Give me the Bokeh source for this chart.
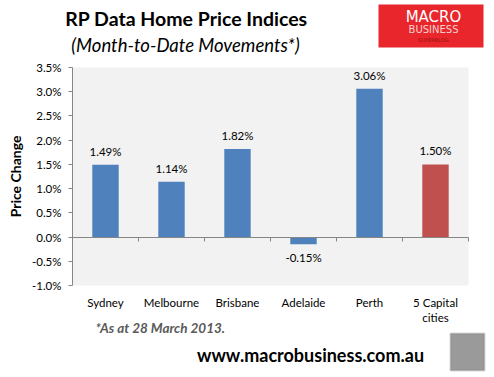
from bokeh.plotting import figure
from bokeh.models import (ColumnDataSource, LabelSet, Label, LinearAxis, FixedTicker, Range1d,
                          NumeralTickFormatter, BoxAnnotation)
from bokeh.core.properties import value
from bokeh.embed import file_html
from bokeh.resources import INLINE

cities = ["Sydney", "Melbourne", "Brisbane", "Adelaide", "Perth", "5 Capital\ncities"]
changes = [0.0149, 0.0114, 0.0182, -0.0015, 0.0306, 0.0150]
colors = ["#4F81BD", "#4F81BD", "#4F81BD", "#4F81BD", "#4F81BD", "#C0504D"]
y_ticks = [-0.01, -0.005, 0.0, 0.005, 0.01, 0.015, 0.02, 0.025, 0.03, 0.035]

FONT = "Lato"
W, H = 494, 377
# plot-area placement in pixels (layout only)
PL, PR, PT, PB = 72, 468, 67, 285
n = len(cities)
ymin, ymax = y_ticks[0], y_ticks[-1]
xpx = (PR - PL) / n
ypx = (PB - PT) / (ymax - ymin)

xs = [i + 0.5 for i in range(n)]
labels = [f"{v*100:.2f}%" for v in changes]
src = ColumnDataSource(dict(x=xs, top=changes, color=colors))
pos_src = ColumnDataSource(dict(x=[x for x, v in zip(xs, changes) if v >= 0],
                                y=[v for v in changes if v >= 0],
                                label=[l for l, v in zip(labels, changes) if v >= 0]))
neg_src = ColumnDataSource(dict(x=[x for x, v in zip(xs, changes) if v < 0],
                                y=[v for v in changes if v < 0],
                                label=[l for l, v in zip(labels, changes) if v < 0]))

p = figure(width=W, height=H, output_backend="svg", toolbar_location=None,
           x_range=Range1d(-PL / xpx, n + (W - PR) / xpx),
           y_range=Range1d(ymin - (H - PB) / ypx, ymax + PT / ypx),
           x_axis_location=None, y_axis_location=None,
           min_border_left=0, min_border_right=0, min_border_top=0, min_border_bottom=0)
p.outline_line_color = None
p.grid.grid_line_color = None
p.background_fill_color = "white"
p.border_fill_color = "white"

# plot area
p.quad(left=0, right=n, bottom=ymin, top=ymax, fill_color="#F2F2F2", line_color=None)
p.vbar(x="x", top="top", bottom=0, width=0.4, fill_color="color", line_color=None, source=src)

p.add_layout(LabelSet(x="x", y="y", text="label", source=pos_src, text_align="center",
                      text_baseline="bottom", y_offset=7, text_font=value(FONT),
                      text_font_size="11.5px", text_color="#000000"))
p.add_layout(LabelSet(x="x", y="y", text="label", source=neg_src, text_align="center",
                      text_baseline="top", y_offset=-7, text_font=value(FONT),
                      text_font_size="11.5px", text_color="#000000"))

# zero line with category-boundary ticks
za = LinearAxis(fixed_location=0, bounds=(0, n), ticker=FixedTicker(ticks=list(range(n + 1))))
za.major_label_overrides = {i: "" for i in range(n + 1)}
za.major_label_text_font_size = "1px"
za.axis_line_color = "#868686"
za.major_tick_line_color = "#868686"
za.major_tick_in = 0
za.major_tick_out = 4
za.minor_tick_line_color = None
p.add_layout(za, "below")

# y axis
ya = LinearAxis(fixed_location=0, bounds=(ymin, ymax), ticker=FixedTicker(ticks=y_ticks),
                formatter=NumeralTickFormatter(format="0.0%"), axis_label="Price Change")
ya.axis_label_text_font = FONT
ya.axis_label_text_font_style = "bold"
ya.axis_label_text_font_size = "14px"
ya.axis_label_text_color = "#000000"
ya.axis_label_standoff = 5
ya.major_label_text_font = FONT
ya.major_label_text_font_size = "11.5px"
ya.major_label_text_color = "#000000"
ya.axis_line_color = "#868686"
ya.major_tick_line_color = "#868686"
ya.major_tick_in = 0
ya.major_tick_out = 4
ya.minor_tick_line_color = None
ya.major_label_standoff = 7
p.add_layout(ya, "left")

# x axis (category labels)
xa = LinearAxis(fixed_location=ymin, bounds=(0, n), ticker=FixedTicker(ticks=xs))
xa.major_label_overrides = {x: c for x, c in zip(xs, cities)}
xa.major_label_text_font = FONT
xa.major_label_text_font_size = "11.5px"
xa.major_label_text_color = "#000000"
xa.axis_line_color = None
xa.major_tick_line_color = None
xa.minor_tick_line_color = None
xa.major_label_standoff = 4
p.add_layout(xa, "below")

def lab(x, y, text, **kw):
    p.add_layout(Label(x=x, y=H - y, x_units="screen", y_units="screen", text=text,
                       text_baseline="middle", **kw))

lab(186, 18, "RP Data Home Price Indices", text_align="center", text_font=FONT,
    text_font_style="bold", text_font_size="19.5px", text_color="#000000")
lab(185, 44, "(Month-to-Date Movements*)", text_align="center", text_font=FONT,
    text_font_style="italic", text_font_size="18.5px", text_color="#000000")
lab(95, 327, "*As at 28 March 2013.", text_align="left", text_font=FONT,
    text_font_style="bold italic", text_font_size="13.5px", text_color="#595959")
lab(310, 354, "www.macrobusiness.com.au", text_align="center", text_font=FONT,
    text_font_style="bold", text_font_size="18px", text_color="#000000")

# logo box
p.add_layout(BoxAnnotation(left=378, right=483, top=H - 4, bottom=H - 47,
                           left_units="screen", right_units="screen",
                           top_units="screen", bottom_units="screen",
                           fill_color="#E8262B", fill_alpha=1, line_color=None))
lab(433, 16, "MACRO", text_align="center", text_font="DejaVu Sans",
    text_font_size="15px", text_color="#FFFFFF")
lab(433, 29, "BUSINESS", text_align="center", text_font="DejaVu Sans",
    text_font_size="10px", text_color="#F8D0D0")
lab(433, 39, "SUPERBLOG", text_align="center", text_font="DejaVu Sans",
    text_font_size="5px", text_color="#A01010")
# wolf picture placeholder
p.add_layout(BoxAnnotation(left=450, right=484, top=H - 333, bottom=H - 370,
                           left_units="screen", right_units="screen",
                           top_units="screen", bottom_units="screen",
                           fill_color="#9A9A9A", fill_alpha=1, line_color="#7F7F7F", line_width=2))

open("out.html", "w").write(file_html(p, INLINE))
